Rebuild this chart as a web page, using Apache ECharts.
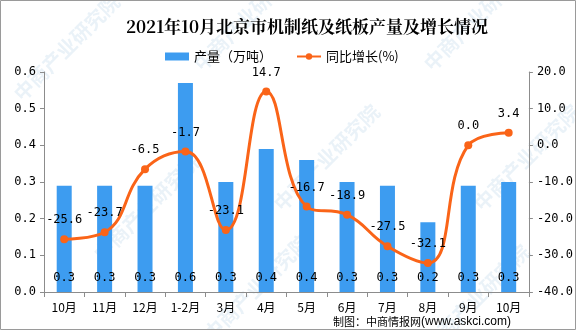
<!DOCTYPE html>
<html>
<head>
<meta charset="utf-8">
<script src="https://cdn.jsdelivr.net/npm/echarts@6/dist/echarts.min.js"></script>
<style>
html,body{margin:0;padding:0;background:#fff;}
#main{width:576px;height:330px;}
</style>
</head>
<body>
<div id="main"></div>
<script>
// Monthly data
const categories = ['10月', '11月', '12月', '1-2月', '3月', '4月', '5月', '6月', '7月', '8月', '9月', '10月'];
const output = [0.29, 0.29, 0.29, 0.57, 0.30, 0.39, 0.36, 0.30, 0.29, 0.19, 0.29, 0.30];
const growth = [-25.6, -23.7, -6.5, -1.7, -23.1, 14.7, -16.7, -18.9, -27.5, -32.1, 0.0, 3.4];

const chart = echarts.init(document.getElementById('main'), null, { renderer: 'canvas' });

const axisColor = '#8c8c8c';

// faint diagonal watermark text
const marks = [];
const wmPos = [[10, 90], [190, 60], [420, 60], [90, 250], [270, 200], [470, 200], [200, 330], [420, 340]];
wmPos.forEach(p => {
  marks.push({
    type: 'text', x: p[0], y: p[1], rotation: Math.PI / 4, silent: true, z: 0,
    style: { text: '中商产业研究院', fill: 'rgba(150,190,220,0.2)', font: 'bold 20px "Noto Sans CJK SC"' }
  });
});

chart.setOption({
  backgroundColor: '#fff',
  animation: false,
  title: {
    text: '2021年10月北京市机制纸及纸板产量及增长情况',
    left: 302, top: 13, textAlign: 'center',
    textStyle: { fontSize: 17, fontWeight: 'bold', color: '#000', fontFamily: '"Noto Serif CJK SC", "Noto Sans CJK SC", serif' }
  },
  legend: {
    top: 45, left: 160, itemGap: 24, itemWidth: 24, itemHeight: 8,
    textStyle: { fontSize: 13, color: '#000', fontFamily: '"Noto Sans CJK SC"' },
    data: [
      { name: '产量（万吨）', icon: 'rect' },
      { name: '同比增长(%)' }
    ]
  },
  graphic: marks.concat([
    {
      type: 'rect', shape: { x: 0.5, y: 0.5, width: 575, height: 329 }, silent: true, z: 100,
      style: { fill: 'none', stroke: '#9a9a9a', lineWidth: 1 }
    },
    {
      type: 'text', x: 421, y: 322, z: 100,
      style: { text: '制图：中商情报网', fill: '#000', font: '11px "Noto Sans CJK SC"', verticalAlign: 'middle', align: 'right' }
    },
    {
      type: 'text', x: 421, y: 322, z: 100,
      style: { text: '(www.askci.com)', fill: '#000', font: '12px "Liberation Sans"', verticalAlign: 'middle' }
    }
  ]),
  grid: { left: 44, right: 45, top: 72, bottom: 38 },
  xAxis: {
    type: 'category', data: categories,
    axisLine: { lineStyle: { color: axisColor } },
    axisTick: { show: true, alignWithLabel: false, length: 5, lineStyle: { color: axisColor } },
    axisLabel: { color: '#000', fontSize: 12, margin: 9, fontFamily: '"Noto Sans CJK SC"' }
  },
  yAxis: [
    {
      type: 'value', min: 0, max: 0.6, interval: 0.1,
      axisLine: { show: true, lineStyle: { color: axisColor } },
      axisTick: { show: true, length: 4, lineStyle: { color: axisColor } },
      splitLine: { show: false },
      axisLabel: { color: '#000', fontSize: 12, fontFamily: '"DejaVu Sans Mono", monospace', formatter: v => v.toFixed(1) }
    },
    {
      type: 'value', min: -40, max: 20, interval: 10,
      axisLine: { show: true, lineStyle: { color: axisColor } },
      axisTick: { show: true, length: 4, lineStyle: { color: axisColor } },
      splitLine: { show: false },
      axisLabel: { color: '#000', fontSize: 12, fontFamily: '"DejaVu Sans Mono", monospace', formatter: v => v.toFixed(1) }
    }
  ],
  series: [
    {
      name: '产量（万吨）', type: 'bar', data: output, barWidth: 15, z: 2,
      itemStyle: { color: '#3d9cf0' },
      label: {
        show: true, position: 'insideBottom', distance: 8, color: '#000', fontSize: 12,
        fontFamily: '"DejaVu Sans Mono", monospace',
        formatter: p => p.value.toFixed(1)
      }
    },
    {
      name: '同比增长(%)', type: 'line', yAxisIndex: 1, data: growth, smooth: 0.45, z: 3,
      symbol: 'circle', symbolSize: 8,
      lineStyle: { color: '#fa6418', width: 3 },
      itemStyle: { color: '#fa6418' },
      label: {
        show: true, position: 'top', distance: 9, color: '#000', fontSize: 12,
        fontFamily: '"DejaVu Sans Mono", monospace',
        formatter: p => p.value.toFixed(1)
      }
    }
  ]
});
</script>
</body>
</html>
